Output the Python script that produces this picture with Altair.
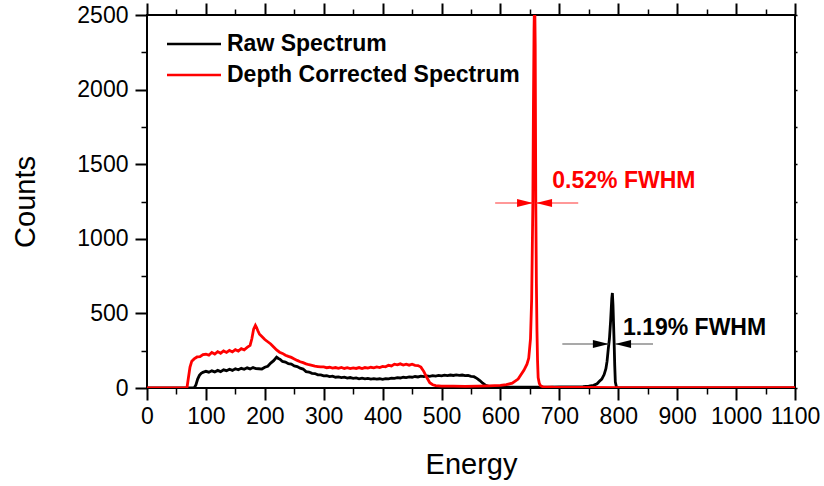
import altair as alt
import pandas as pd

# ---------------- data ----------------
SERIES = ["Raw Spectrum", "Depth Corrected Spectrum"]
COLORS = ["#000000", "#ff0000"]

raw_energy = [0, 80, 83, 86, 89, 92, 95, 100, 105, 110, 115, 120, 125, 130, 135, 140, 145, 150,
              155, 160, 165, 170, 175, 180, 185, 190, 195, 200, 205, 210, 215, 220, 223, 226, 230,
              235, 240, 245, 250, 255, 260, 265, 270, 275, 280, 285, 290, 295, 300, 305, 310, 315,
              320, 325, 330, 335, 340, 345, 350, 355, 360, 365, 370, 375, 380, 385, 390, 395, 400,
              405, 410, 415, 420, 425, 430, 435, 440, 445, 450, 455, 460, 465, 470, 475, 480, 485,
              490, 495, 500, 505, 510, 515, 520, 525, 530, 535, 540, 545, 550, 555, 560, 565, 570,
              575, 580, 590, 600, 620, 640, 660, 680,
              700, 720, 740, 750, 758, 764, 768, 772, 776, 779, 781, 783, 785, 787, 789, 790, 791,
              792, 793, 794, 795, 797, 800, 1100]
raw_counts = [0, 0, 20, 60, 85, 98, 105, 112, 106, 115, 108, 118, 110, 122, 116, 126, 118, 129,
              122, 132, 125, 135, 128, 137, 130, 129, 127, 139, 146, 167, 183, 207, 198, 192, 178,
              174, 163, 160, 148, 144, 133, 127, 110, 107, 98, 97, 88, 88, 81, 82, 76, 79,
              72, 75, 70, 73, 66, 70, 65, 68, 62, 66, 61, 64, 60, 63, 59, 62, 58,
              63, 61, 66, 64, 69, 67, 72, 70, 74, 72, 77, 74, 79, 76, 81, 78, 83,
              80, 84, 81, 86, 83, 87, 84, 88, 85, 87, 83, 84, 78, 76, 65, 50, 32,
              18, 11, 8, 7, 6, 6, 5, 6,
              7, 7, 9, 12, 18, 28, 45, 60, 90, 130, 180, 260, 330, 450, 600, 637, 560,
              430, 300, 150, 40, 5, 0, 0]

dc_energy = [0, 65, 68, 70, 73, 76, 80, 85, 90, 95, 100, 105, 110, 115, 120, 125, 130, 135, 140,
             145, 150, 155, 160, 165, 170, 175, 178, 181, 184, 186, 188, 191, 195, 200, 205, 210,
             215, 220, 225, 230, 235, 240, 245, 250, 255, 260, 265, 270, 275, 280, 285, 290, 295,
             300, 305, 310, 315, 320, 325, 330, 335, 340, 345, 350, 355, 360, 365, 370, 375, 380,
             385, 390, 395, 400, 405, 410, 415, 420, 425, 430, 435, 440, 445, 450, 455,
             460, 465, 470, 475, 480, 485, 490, 500, 520, 540, 560, 580, 600, 610, 620, 630, 640,
             645, 648, 651, 653, 655, 656, 657, 658, 659, 660, 661, 662, 663, 664, 666, 668, 672,
             690, 750, 800, 900, 1000, 1100]
dc_counts = [0, 0, 5, 60, 140, 180, 195, 208, 210, 224, 226, 220, 238, 228, 244, 233, 248, 238, 252,
             242, 257, 248, 264, 256, 272, 285, 330, 395, 420, 405, 385, 360, 345, 325, 310, 295,
             275, 255, 240, 232, 220, 212, 205, 195, 185, 176, 170, 162, 156, 152, 147, 144, 141,
             141, 136, 139, 133, 137, 132, 138, 131, 136, 130, 135, 131, 137, 130, 137, 133, 139,
             135, 141, 137, 145, 142, 152, 148, 160, 155, 162, 154, 160, 153, 159, 152,
             150, 140, 110, 70, 35, 22, 16, 13, 12, 11, 12, 14, 17, 22, 32, 60, 120,
             160, 200, 330, 600, 1240, 1900, 2400, 2650, 2300, 1240, 700, 380, 180, 70, 30, 15, 8,
             5, 4, 3, 3, 3, 3]

x_major = list(range(0, 1101, 100))
x_minor = list(range(50, 1100, 100))
y_major = list(range(0, 2501, 500))
y_minor = list(range(250, 2500, 500))
y_right = list(range(0, 2501, 250))

# FWHM annotations
fwhm_text = ["0.52% FWHM", "1.19% FWHM"]
fwhm_color = ["#ff0000", "#000000"]
fwhm_line_color = ["#ff3333", "#555555"]
fwhm_y = [1240, 295]
fwhm_left_tail = [591, 705]
fwhm_left_tip = [655.3, 784]
fwhm_right_tip = [660.4, 794.6]
fwhm_right_tail = [732, 859]
fwhm_text_x = [688, 808]
fwhm_text_y = [1340, 355]

# ---------------- tables ----------------
raw_df = pd.DataFrame({"Energy": raw_energy, "Counts": raw_counts, "Series": SERIES[0]})
dc_df = pd.DataFrame({"Energy": dc_energy, "Counts": dc_counts, "Series": SERIES[1]})
seg_df = pd.DataFrame({
    "x1": fwhm_left_tail + fwhm_right_tip,
    "x2": fwhm_left_tip + fwhm_right_tail,
    "y": fwhm_y + fwhm_y,
    "c": fwhm_line_color + fwhm_line_color,
})
tipL_df = pd.DataFrame({"x": fwhm_left_tip, "y": fwhm_y, "c": fwhm_color})
tipR_df = pd.DataFrame({"x": fwhm_right_tip, "y": fwhm_y, "c": fwhm_color})
txt_df = pd.DataFrame({"x": fwhm_text_x, "y": fwhm_text_y, "t": fwhm_text, "c": fwhm_color})

FONT = "Liberation Sans"
xs = alt.Scale(domain=[0, 1100], nice=False, zero=False)
ys = alt.Scale(domain=[0, 2500], nice=False)

common_axis = dict(grid=False, domain=False, tickColor="black")

ax_bottom = alt.Axis(orient="bottom", values=x_major, format="d", tickSize=12, tickWidth=2,
                     labelFont=FONT, labelFontSize=23, labelColor="black", labelPadding=5,
                     labelFlush=False, labelOverlap=False, title="Energy", titleFont=FONT,
                     titleFontSize=29, titleFontWeight="normal", titleColor="black",
                     titlePadding=22, **common_axis)
ax_left = alt.Axis(orient="left", values=y_major, format="d", tickSize=12, tickWidth=2,
                   labelFont=FONT, labelFontSize=23, labelColor="black", labelPadding=7,
                   labelFlush=False, labelOverlap=False, title="Counts", titleFont=FONT,
                   titleFontSize=29, titleFontWeight="normal", titleColor="black",
                   titlePadding=36, **common_axis)

# a 54 px stroke drawn by a path that reaches past the unit box, so rows stay compact
legend = alt.Legend(orient="none", legendX=32, legendY=14, title=None, padding=0,
                    symbolType="M -2 0 L 2 0", symbolSize=729, symbolStrokeWidth=2.5,
                    symbolFillColor="transparent",
                    labelFont=FONT, labelFontSize=23, labelFontWeight="bold", labelColor="black",
                    labelOffset=18, labelLimit=500, rowPadding=4)
color = alt.Color("Series:N", scale=alt.Scale(domain=SERIES, range=COLORS), legend=legend)

raw_line = alt.Chart(raw_df).mark_line(strokeWidth=2.8, clip=True).encode(
    x=alt.X("Energy:Q", scale=xs, axis=ax_bottom),
    y=alt.Y("Counts:Q", scale=ys, axis=ax_left),
    color=color,
)
dc_line = alt.Chart(dc_df).mark_line(strokeWidth=2.8, clip=True).encode(
    x=alt.X("Energy:Q", scale=xs, axis=None),
    y=alt.Y("Counts:Q", scale=ys, axis=None),
    color=color,
)


def axis_layer(xaxis, yaxis):
    return alt.Chart(raw_df).mark_point(opacity=0).encode(
        x=alt.X("Energy:Q", scale=xs, axis=xaxis),
        y=alt.Y("Counts:Q", scale=ys, axis=yaxis),
    )


minor_bl = axis_layer(
    alt.Axis(orient="bottom", values=x_minor, tickSize=6, tickWidth=1.5, labels=False, title=None, **common_axis),
    alt.Axis(orient="left", values=y_minor, tickSize=6, tickWidth=1.5, labels=False, title=None, **common_axis),
)
major_tr = axis_layer(
    alt.Axis(orient="top", values=x_major, tickSize=12, tickWidth=2, labels=False, title=None, **common_axis),
    alt.Axis(orient="right", values=y_right, tickSize=2, tickWidth=1.5, labels=False, title=None, **common_axis),
)
minor_t = axis_layer(
    alt.Axis(orient="top", values=x_minor, tickSize=6, tickWidth=1.5, labels=False, title=None, **common_axis),
    None,
)

segs = alt.Chart(seg_df).mark_rule(strokeWidth=1.2).encode(
    x=alt.X("x1:Q", scale=xs, axis=None), x2="x2:Q",
    y=alt.Y("y:Q", scale=ys, axis=None),
    color=alt.Color("c:N", scale=None),
)
head_right = alt.Chart(tipL_df).mark_point(
    shape="M 0 0 L -4 -1 L -4 1 Z", size=64, filled=True, opacity=1, strokeWidth=0
).encode(
    x=alt.X("x:Q", scale=xs, axis=None),
    y=alt.Y("y:Q", scale=ys, axis=None),
    fill=alt.Fill("c:N", scale=None),
)
head_left = alt.Chart(tipR_df).mark_point(
    shape="M 0 0 L 4 -1 L 4 1 Z", size=64, filled=True, opacity=1, strokeWidth=0
).encode(
    x=alt.X("x:Q", scale=xs, axis=None),
    y=alt.Y("y:Q", scale=ys, axis=None),
    fill=alt.Fill("c:N", scale=None),
)
texts = alt.Chart(txt_df).mark_text(
    align="left", baseline="alphabetic", font=FONT, fontSize=23, fontWeight="bold"
).encode(
    x=alt.X("x:Q", scale=xs, axis=None),
    y=alt.Y("y:Q", scale=ys, axis=None),
    text="t:N",
    color=alt.Color("c:N", scale=None),
)

chart = alt.layer(
    raw_line, dc_line, minor_bl, major_tr, minor_t, segs, head_right, head_left, texts
).resolve_axis(
    x="independent", y="independent"
).properties(
    width=648, height=373,
    autosize=alt.AutoSizeParams(type="none"),
    padding={"left": 147, "top": 15, "right": 29, "bottom": 98},
    background="white",
).configure_view(stroke="black", strokeWidth=2)

chart.save("out.html", embed_options={"renderer": "svg", "actions": False})
